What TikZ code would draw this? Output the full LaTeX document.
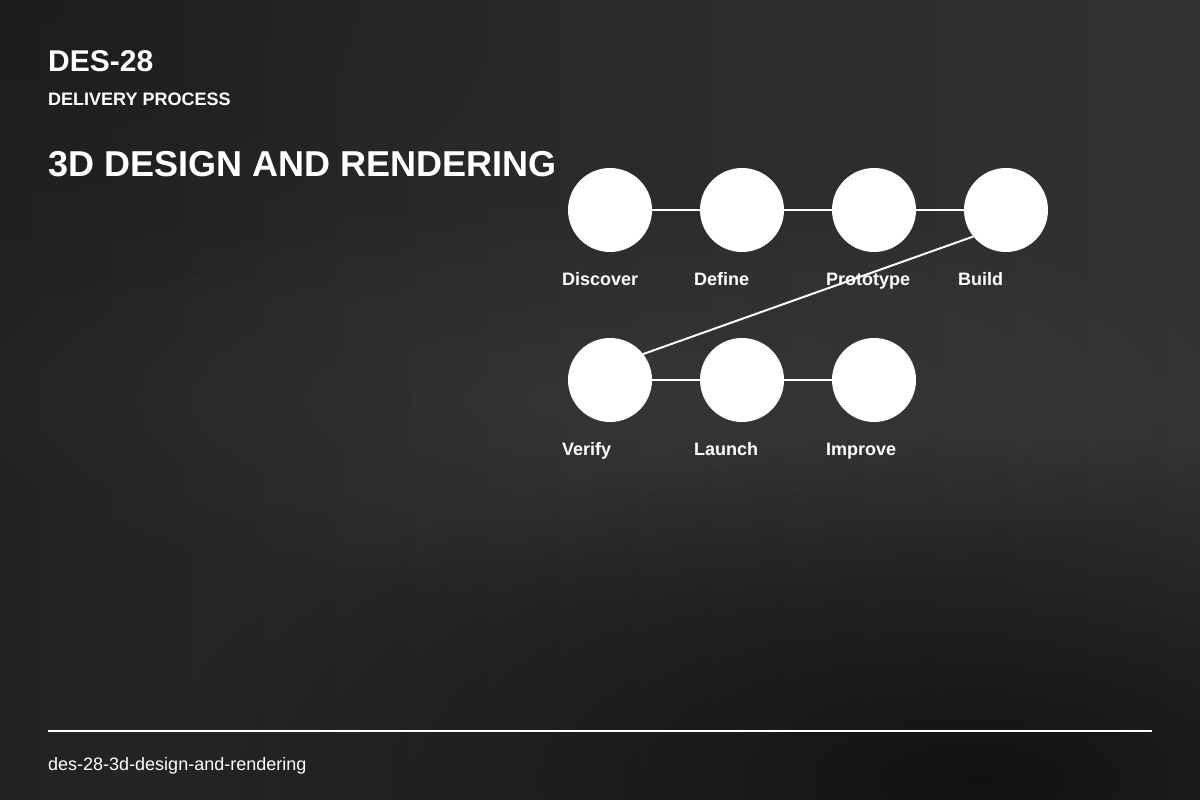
\documentclass[tikz,border=0pt]{standalone}
\usepackage{fontspec}
\setmainfont{Liberation Sans}
\usetikzlibrary{fadings}
\definecolor{bgL}{HTML}{222222}
\definecolor{bgR}{HTML}{323232}
\definecolor{bgDark}{HTML}{101010}
\tikzfading[name=softblob, inner color=transparent!0, outer color=transparent!100]
\tikzfading[name=hardblob, inner color=transparent!0, outer color=transparent!100, middle color=transparent!10]
\begin{document}
\begin{tikzpicture}[x=1pt,y=-1pt,
  stepnode/.style={circle, fill=white, minimum size=84pt, inner sep=0pt},
  link/.style={white, line width=2pt},
  lbl/.style={anchor=base west, text=white, inner sep=0pt, font=\fontsize{18}{18}\selectfont\bfseries},
  ttl/.style={anchor=base west, text=white, inner sep=0pt}]
\useasboundingbox (0,0) rectangle (1200,800);
% background
\shade[left color=bgL, right color=bgR] (0,0) rectangle (1200,800);
\fill[white, fill opacity=0.05, path fading=softblob] (600,400) ellipse [x radius=700, y radius=220];
\fill[bgDark, fill opacity=0.95, path fading=softblob] (980,780) ellipse [x radius=820, y radius=340];
\fill[bgDark, fill opacity=0.3, path fading=softblob] (0,0) ellipse [x radius=500, y radius=300];
% titles
\node[ttl, font=\fontsize{30}{30}\selectfont\bfseries] (code) at (48,72) {DES-28};
\node[ttl, font=\fontsize{18}{18}\selectfont\bfseries] (sub) at (48,105) {DELIVERY PROCESS};
\node[ttl, font=\fontsize{36}{36}\selectfont\bfseries] (title) at (48,176) {3D DESIGN AND RENDERING};
% steps
\node[stepnode] (discover) at (610,210) {};
\node[stepnode] (define) at (742,210) {};
\node[stepnode] (prototype) at (874,210) {};
\node[stepnode] (build) at (1006,210) {};
\node[stepnode] (verify) at (610,380) {};
\node[stepnode] (launch) at (742,380) {};
\node[stepnode] (improve) at (874,380) {};
\draw[link] (discover) -- (define);
\draw[link] (define) -- (prototype);
\draw[link] (prototype) -- (build);
\draw[link] (build.219) -- (verify.38);
\draw[link] (verify) -- (launch);
\draw[link] (launch) -- (improve);
% labels
\node[lbl] (l1) at (562,285) {Discover};
\node[lbl] (l2) at (694,285) {Define};
\node[lbl] (l3) at (826,285) {Prototype};
\node[lbl] (l4) at (958,285) {Build};
\node[lbl] (l5) at (562,455) {Verify};
\node[lbl] (l6) at (694,455) {Launch};
\node[lbl] (l7) at (826,455) {Improve};
% footer
\coordinate (fl) at (48,731);
\coordinate (fr) at (1152,731);
\draw[white, line width=2pt] (fl) -- (fr);
\node[ttl, font=\fontsize{18}{18}\selectfont] (foot) at (48,770) {des-28-3d-design-and-rendering};
\end{tikzpicture}
\end{document}
